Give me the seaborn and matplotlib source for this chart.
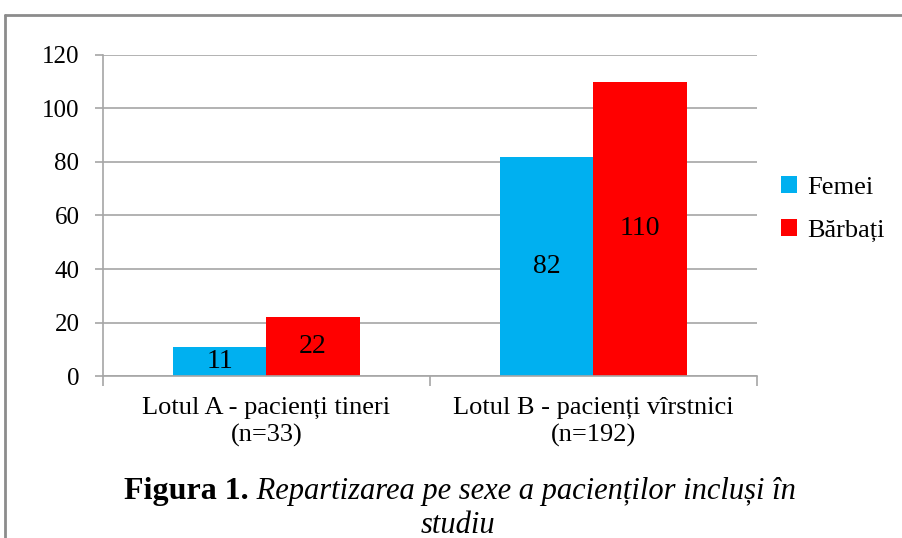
# Repartizarea pe sexe a pacientilor
import pandas as pd
import seaborn as sns
import matplotlib.pyplot as plt
from matplotlib.lines import Line2D

# date
loturi = ["Lotul A - pacienți tineri\n(n=33)", "Lotul B - pacienți vîrstnici\n(n=192)"]
femei = [11, 82]
barbati = [22, 110]
y_ticks = [0, 20, 40, 60, 80, 100, 120]

df = pd.DataFrame({
    "Lot": loturi * 2,
    "Sex": ["Femei"] * 2 + ["Bărbați"] * 2,
    "Numar": femei + barbati,
})

sns.set_style("white")
plt.rcParams['font.family'] = ['Liberation Serif', 'DejaVu Serif']
plt.rcParams['text.color'] = 'black'
plt.rcParams['xtick.labelcolor'] = 'black'
plt.rcParams['ytick.labelcolor'] = 'black'

fig = plt.figure(figsize=(9.02, 5.38), dpi=100)
ax = fig.add_axes([0.1142, 0.3011, 0.7250, 0.5967])

culori = {"Femei": "#00B0F0", "Bărbați": "#FF0000"}
sns.barplot(data=df, x="Lot", y="Numar", hue="Sex", palette=culori,
            width=0.57, saturation=1, linewidth=0, ax=ax, legend=True)

for cont in ax.containers:
    ax.bar_label(cont, label_type="center", fontsize=20, color="black")

ax.set_ylim(0, 120)
ax.set_xlim(-0.5, 1.5)
ax.set_yticks(y_ticks)
ax.set_xlabel("")
ax.set_ylabel("")
ax.yaxis.grid(True, color="#a6a6a6", linewidth=1.2)
ax.set_axisbelow(True)

for s in ["top", "right"]:
    ax.spines[s].set_visible(False)
for s in ["left", "bottom"]:
    ax.spines[s].set_color("#a6a6a6")
    ax.spines[s].set_linewidth(1.2)

ax.tick_params(axis="y", left=True, length=6, width=1.2, color="#a6a6a6",
               labelsize=18, pad=11, labelcolor="black")
ax.tick_params(axis="x", which="major", length=0, labelsize=19, pad=15,
               labelcolor="black")
ax.set_xticks([0, 1])
ax.set_xticklabels(loturi, linespacing=1.3)
ax.set_xticks([-0.5, 0.5, 1.5], minor=True)
ax.tick_params(axis="x", which="minor", bottom=True, length=7, width=1.2,
               color="#a6a6a6")

# legenda
leg = ax.legend(loc="center left", bbox_to_anchor=(1.0, 0.52), frameon=False,
                fontsize=19, handlelength=0.6, handleheight=0.6,
                handletextpad=0.4, labelspacing=0.75)
for t in leg.get_texts():
    t.set_color("black")

# chenar
fig.add_artist(Line2D([0.006, 0.006], [0, 0.972], color="#8c8c8c", linewidth=2))
fig.add_artist(Line2D([0.006, 1.0], [0.972, 0.972], color="#8c8c8c", linewidth=2))

# titlu: parte bold + parte italica, centrate impreuna
r = fig.canvas.get_renderer()
t1 = fig.text(0, 0.0856, "Figura 1.", fontsize=23, fontweight="bold",
              ha="left", va="center", color="black")
t2 = fig.text(0, 0.0856, " Repartizarea pe sexe a pacienților incluși în",
              fontsize=22, style="italic", ha="left", va="center", color="black")
w1 = t1.get_window_extent(r).width
w2 = t2.get_window_extent(r).width
x0 = 460 - (w1 + w2) / 2
t1.set_x(x0 / 902)
t2.set_x((x0 + w1) / 902)
fig.text(458 / 902, 0.024, "studiu", fontsize=22, style="italic",
         ha="center", va="center", color="black")

fig.savefig("out.png", dpi=100)
